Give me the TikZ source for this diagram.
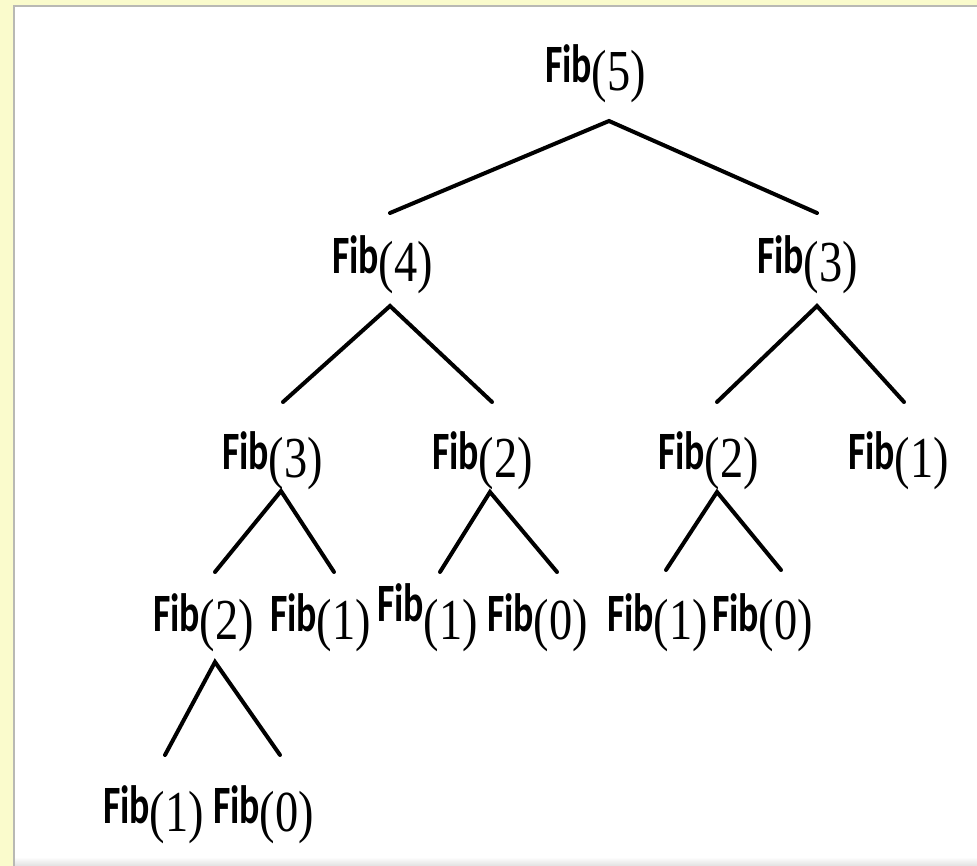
\documentclass[tikz,border=0pt]{standalone}
\usepackage{fontspec}
\usepackage{graphicx}
\newfontfamily\fibfont{Carlito}
\newfontfamily\tmfont{Liberation Serif}
\definecolor{bgyellow}{RGB}{250,251,204}
\definecolor{shadowgray}{RGB}{185,185,180}
\newcommand\fibtxt[2][-8pt]{\scalebox{0.7}[1]{\fontsize{54}{60}\fibfont\bfseries Fib}\raisebox{#1}{\scalebox{0.8}[1]{\fontsize{58}{66}\tmfont(#2)}}}
\tikzset{
  lbl/.style={inner sep=0pt, outer sep=0pt, anchor=base west, text=black},
  edge/.style={line width=4pt, line cap=round, line join=miter, black}
}
\begin{document}
\begin{tikzpicture}[x=1pt,y=-1pt]
\useasboundingbox (0,0) rectangle (977,866);
% frame
\fill[bgyellow] (0,0) rectangle (977,866);
\fill[white] (13,5) rectangle (977,866);
\fill[shadowgray] (13,5) rectangle (977,7);
\fill[shadowgray] (13,5) rectangle (15,866);
\shade[top color=white, bottom color=black!12] (15,857) rectangle (977,866);
% labels
\node[lbl] (n5) at (545,83) {\fibtxt{5}};
\node[lbl] (n4) at (332,274) {\fibtxt{4}};
\node[lbl] (n3r) at (757,274) {\fibtxt{3}};
\node[lbl] (n3l) at (222,469) {\fibtxt{3}};
\node[lbl] (n2m) at (432,469) {\fibtxt{2}};
\node[lbl] (n2r) at (658,469) {\fibtxt{2}};
\node[lbl] (n1r) at (848,469) {\fibtxt{1}};
\node[lbl] (m2) at (153,631) {\fibtxt{2}};
\node[lbl] (m1a) at (270,631) {\fibtxt{1}};
\node[lbl] (m1b) at (377,621) {\fibtxt[-18pt]{1}};
\node[lbl] (m0a) at (487,631) {\fibtxt{0}};
\node[lbl] (m1c) at (607,631) {\fibtxt{1}};
\node[lbl] (m0b) at (712,631) {\fibtxt{0}};
\node[lbl] (b1) at (103,823) {\fibtxt{1}};
\node[lbl] (b0) at (213,823) {\fibtxt{0}};
% connector points
\coordinate (a5) at (609,121);
\coordinate (a5l) at (390,213);
\coordinate (a5r) at (817,213);
\coordinate (a4) at (390,306);
\coordinate (a4l) at (283,402);
\coordinate (a4r) at (492,402);
\coordinate (a3r) at (817,306);
\coordinate (a3rl) at (717,402);
\coordinate (a3rr) at (904,402);
\coordinate (a3l) at (281,491);
\coordinate (a3ll) at (215,572);
\coordinate (a3lr) at (334,572);
\coordinate (a2m) at (490,492);
\coordinate (a2ml) at (440,572);
\coordinate (a2mr) at (557,572);
\coordinate (a2r) at (717,492);
\coordinate (a2rl) at (666,570);
\coordinate (a2rr) at (781,570);
\coordinate (am2) at (215,662);
\coordinate (am2l) at (165,755);
\coordinate (am2r) at (280,755);
% connectors
\draw[edge] (a5l) -- (a5) -- (a5r);
\draw[edge] (a4l) -- (a4) -- (a4r);
\draw[edge] (a3rl) -- (a3r) -- (a3rr);
\draw[edge] (a3ll) -- (a3l) -- (a3lr);
\draw[edge] (a2ml) -- (a2m) -- (a2mr);
\draw[edge] (a2rl) -- (a2r) -- (a2rr);
\draw[edge] (am2l) -- (am2) -- (am2r);
\end{tikzpicture}
\end{document}
